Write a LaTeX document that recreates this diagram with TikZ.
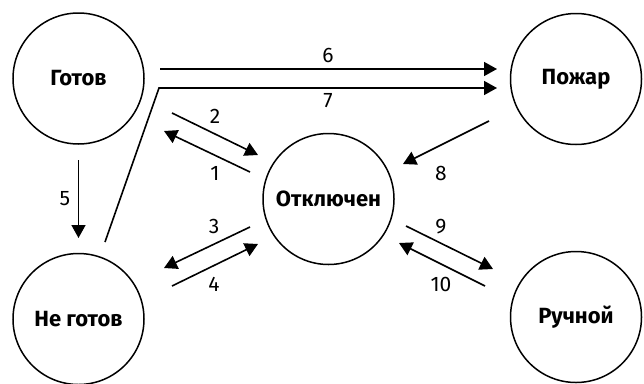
\documentclass[tikz,border=0pt]{standalone}
\usepackage{fontspec}
\setmainfont{Fira Sans}
\usetikzlibrary{arrows.meta}
\begin{document}
\begin{tikzpicture}[x=1pt,y=-1pt,
  state/.style={circle,draw,line width=1.5pt,minimum size=131pt,inner sep=0pt,font=\fontsize{22}{26}\selectfont\bfseries},
  conn/.style={line width=1.6pt,-{Triangle[length=13pt,width=14pt]}},
  num/.style={font=\fontsize{21}{24}\selectfont,inner sep=0pt}]
\useasboundingbox (0,0) rectangle (644,383);
\node[state] (gotov) at (78.5,78.5) {Готов};
\node[state] (pozhar) at (576,79) {Пожар};
\node[state] (negotov) at (78.5,319) {Не готов};
\node[state] (ruchnoy) at (576,317) {Ручной};
\node[state] (otkl) at (328.5,199) {Отключен};
% connector ends
\coordinate (g6) at (160,69);  \coordinate (p6) at (497,69);
\coordinate (n7) at (105,242); \coordinate (c7) at (159,88); \coordinate (p7) at (497,88);
\coordinate (g5) at (78.5,160); \coordinate (n5) at (78.5,238);
\coordinate (g2) at (172,113); \coordinate (o2) at (258,155);
\coordinate (o1) at (250,172); \coordinate (g1) at (164,131);
\coordinate (o3) at (250,227); \coordinate (n3) at (164,268);
\coordinate (n4) at (172,286); \coordinate (o4) at (258,244);
\coordinate (p8) at (489,121); \coordinate (o8) at (403,164);
\coordinate (o9) at (406,226); \coordinate (r9) at (493,269);
\coordinate (r10) at (485,286); \coordinate (o10) at (399,243);
\draw[conn] (g6) -- (p6);
\draw[conn] (n7) -- (c7) -- (p7);
\draw[conn] (g5) -- (n5);
\draw[conn] (g2) -- (o2);
\draw[conn] (o1) -- (g1);
\draw[conn] (o3) -- (n3);
\draw[conn] (n4) -- (o4);
\draw[conn] (p8) -- (o8);
\draw[conn] (o9) -- (r9);
\draw[conn] (r10) -- (o10);
\node[num] (l6) at (328,55) {6};
\node[num] (l7) at (328,101) {7};
\node[num] (l5) at (65,199) {5};
\node[num] (l2) at (215,116) {2};
\node[num] (l1) at (215,173) {1};
\node[num] (l3) at (214,226) {3};
\node[num] (l4) at (214,284) {4};
\node[num] (l8) at (441,173) {8};
\node[num] (l9) at (441,227) {9};
\node[num] (l10) at (441,284) {10};
\end{tikzpicture}
\end{document}
